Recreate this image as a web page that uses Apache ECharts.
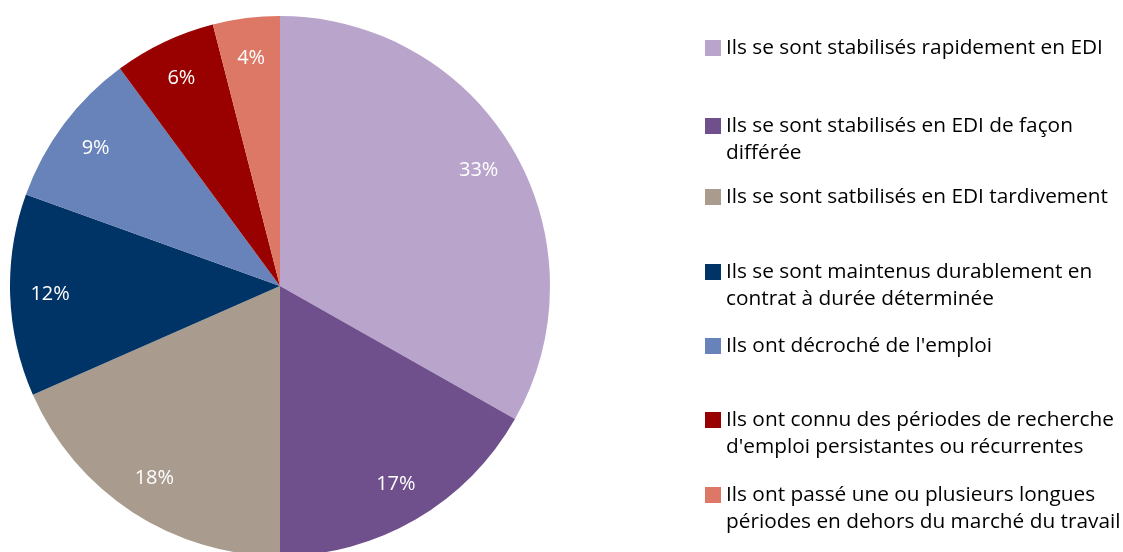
<!DOCTYPE html>
<html>
<head>
<meta charset="utf-8">
<script src="https://cdn.jsdelivr.net/npm/echarts@6/dist/echarts.min.js"></script>
<style>
  html, body { margin: 0; padding: 0; background: #fff; }
  #main { width: 1123px; height: 552px; }
</style>
</head>
<body>
<div id="main"></div>
<script>
// categories (legend text, \n where the legend wraps)
var categories = [
  'Ils se sont stabilisés rapidement en EDI',
  'Ils se sont stabilisés en EDI de façon\ndifférée',
  'Ils se sont satbilisés en EDI tardivement',
  'Ils se sont maintenus durablement en\ncontrat à durée déterminée',
  "Ils ont décroché de l'emploi",
  "Ils ont connu des périodes de recherche\nd'emploi persistantes ou récurrentes",
  'Ils ont passé une ou plusieurs longues\npériodes en dehors du marché du travail'
];
// shares in %
var values = [33.2, 16.8, 18.4, 12.1, 9.4, 6.1, 4.0];
var colors = ['#B9A5CC', '#6F4F8C', '#A99C8E', '#003366', '#6783B9', '#990000', '#DD7766'];

// vertical centre of each legend entry's first line
var legendRows = [48, 126, 197, 272, 346, 420, 495];

var font = '"Open Sans", Lato, sans-serif';
var lineH = 27;

var data = categories.map(function (c, i) {
  return { name: c, value: values[i], itemStyle: { color: colors[i] } };
});

// one legend per entry so the uneven spacing can be kept;
// wrapped entries get an empty first line so the square sits on line one
var legends = categories.map(function (c, i) {
  var twoLines = c.indexOf('\n') >= 0;
  return {
    data: [c],
    left: 705,
    top: twoLines ? legendRows[i] - lineH * 1.5 : legendRows[i] - lineH / 2,
    padding: 0,
    itemWidth: 16,
    itemHeight: 16,
    itemGap: 0,
    icon: 'rect',
    selectedMode: false,
    formatter: function (name) { return twoLines ? '\n' + name : name; },
    textStyle: {
      fontFamily: font,
      fontSize: 20.8,
      color: '#000',
      lineHeight: lineH
    }
  };
});

var chart = echarts.init(document.getElementById('main'));
chart.setOption({
  animation: false,
  color: colors,
  legend: legends,
  series: [
    {
      type: 'pie',
      center: [280, 286],
      radius: [0, 270],
      startAngle: 90,
      clockwise: true,
      label: { show: false },
      labelLine: { show: false },
      emphasis: { disabled: true },
      itemStyle: { borderWidth: 0 },
      data: data
    },
    {
      // transparent ring used only to place the percentage labels
      type: 'pie',
      center: [280, 286],
      radius: [196, 258],
      startAngle: 90,
      clockwise: true,
      silent: true,
      legendHoverLink: false,
      itemStyle: { color: 'rgba(0,0,0,0)', borderWidth: 0 },
      label: {
        show: true,
        position: 'inside',
        color: '#fff',
        fontFamily: font,
        fontSize: 20,
        formatter: function (p) { return Math.round(p.value) + '%'; }
      },
      labelLine: { show: false },
      emphasis: { disabled: true },
      data: categories.map(function (c, i) { return { name: c, value: values[i] }; })
    }
  ]
});
</script>
</body>
</html>
